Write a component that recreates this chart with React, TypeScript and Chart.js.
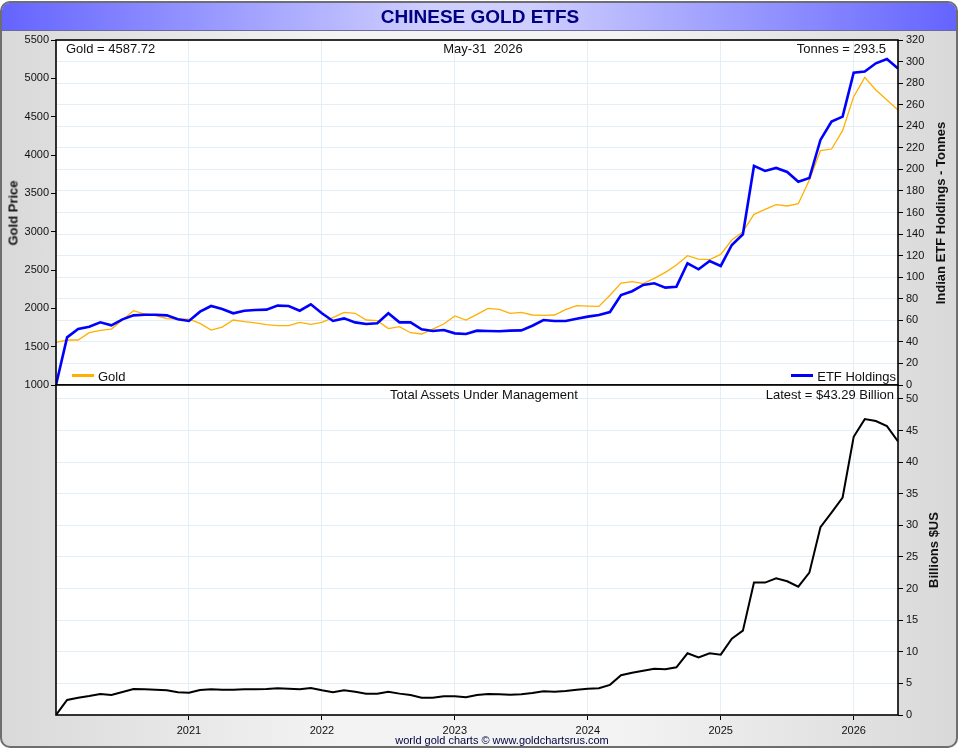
import React, { useEffect, useRef } from "react";
import { Chart, registerables } from "chart.js";

Chart.register(...registerables);

// Monthly values, Jan 2020 .. May 2026 (index 0 = Jan 2020)
const goldPrice = [
  1557, 1587, 1587, 1682, 1713, 1730, 1848, 1969, 1926, 1904, 1865, 1860,
  1860, 1804, 1717, 1756, 1848, 1826, 1809, 1787, 1774, 1774, 1817, 1791,
  1817, 1878, 1948, 1935, 1848, 1839, 1735, 1761, 1682, 1665, 1730, 1796,
  1900, 1848, 1922, 2000, 1987, 1935, 1948, 1913, 1909, 1913, 1982, 2035,
  2030, 2026, 2170, 2330, 2348, 2322, 2391, 2469, 2565, 2687, 2643, 2635,
  2704, 2891, 3000, 3226, 3291, 3352, 3335, 3365, 3674, 4056, 4078, 4317,
  4761, 5013, 4848, 4717, 4587.72,
];

const etfTonnes = [
  0, 44.2, 51.9, 54.1, 58.1, 55.4, 60.9, 64.6, 65.2, 65.2, 64.6, 60.9,
  59.4, 68.0, 73.3, 70.5, 66.5, 68.9, 69.6, 69.9, 73.6, 73.3, 68.9, 74.8,
  66.5, 59.4, 61.8, 58.1, 56.6, 57.2, 66.5, 58.1, 58.1, 51.6, 50.1, 51.0,
  47.9, 47.3, 50.4, 50.1, 49.8, 50.4, 50.7, 55.0, 60.3, 59.4, 59.4, 61.5,
  63.4, 64.9, 67.7, 83.5, 87.0, 92.8, 94.3, 90.3, 91.2, 112.9, 107.3, 115.0,
  110.4, 129.9, 139.8, 203.2, 198.5, 201.3, 197.6, 188.5, 192.0, 227.3, 244.3, 248.9,
  289.7, 290.7, 298.4, 302.4, 293.5,
];

const aumBillions = [
  0, 2.37, 2.74, 3.0, 3.32, 3.16, 3.64, 4.11, 4.06, 4.0, 3.9, 3.59,
  3.53, 3.96, 4.06, 4.0, 4.0, 4.06, 4.06, 4.11, 4.22, 4.17, 4.06, 4.27,
  3.9, 3.59, 3.9, 3.69, 3.38, 3.38, 3.69, 3.38, 3.16, 2.74, 2.74, 2.95,
  2.95, 2.8, 3.16, 3.32, 3.27, 3.22, 3.27, 3.48, 3.75, 3.69, 3.8, 4.0,
  4.17, 4.22, 4.77, 6.3, 6.68, 7.0, 7.33, 7.23, 7.54, 9.76, 9.12, 9.76,
  9.55, 12.08, 13.35, 20.94, 20.94, 21.62, 21.15, 20.3, 22.52, 29.7, 32.0, 34.4,
  44.0, 46.8, 46.5, 45.7, 43.29,
];

const yearTicks = [12, 24, 36, 48, 60, 72];
const yearLabels = ["2021", "2022", "2023", "2024", "2025", "2026"];
const latestDate = "May-31  2026";

const FONT = 'Arial, "Liberation Sans", sans-serif';
const GRID = "#e3eef7";
const GOLD_COLOR = "#ffb000";
const ETF_COLOR = "#0000ff";

Chart.defaults.font.family = FONT;
Chart.defaults.color = "#111";

// white plot background + black frame around the plot area
const plotFrame = {
  id: "plotFrame",
  beforeDraw(chart: any) {
    const { ctx, chartArea: a } = chart;
    ctx.save();
    ctx.fillStyle = "#ffffff";
    ctx.fillRect(a.left, a.top, a.right - a.left, a.bottom - a.top);
    ctx.restore();
  },
  afterDraw(chart: any) {
    const { ctx, chartArea: a } = chart;
    ctx.save();
    ctx.strokeStyle = "#000";
    ctx.lineWidth = 1.6;
    ctx.strokeRect(a.left, a.top, a.right - a.left, a.bottom - a.top);
    ctx.restore();
  },
};

const toPoints = (arr: number[]) => arr.map((v, i) => ({ x: i, y: v }));
const plainNumber = (value: any) => String(value);

const yearAxis = (showLabels: boolean, height: number) => ({
  type: "linear" as const,
  min: 0,
  max: goldPrice.length - 1,
  afterBuildTicks: (scale: any) => {
    scale.ticks = yearTicks.map((value) => ({ value }));
  },
  afterFit: (scale: any) => {
    scale.height = height;
  },
  grid: {
    color: GRID,
    drawTicks: showLabels,
    tickLength: 5,
    tickColor: "#000",
  },
  border: { display: false },
  ticks: {
    display: showLabels,
    font: { size: 11 },
    padding: 4,
    maxRotation: 0,
    callback: (value: any) => {
      const i = yearTicks.indexOf(value);
      return i >= 0 ? yearLabels[i] : "";
    },
  },
});

const Label: React.FC<{
  x: number;
  y: number;
  align?: "left" | "center" | "right";
  size?: number;
  bold?: boolean;
  color?: string;
  rotate?: boolean;
  children: React.ReactNode;
}> = ({ x, y, align = "left", size = 13, bold = false, color = "#111", rotate = false, children }) => {
  let transform = "translate(0, -50%)";
  if (align === "center") transform = "translate(-50%, -50%)";
  if (align === "right") transform = "translate(-100%, -50%)";
  if (rotate) transform = "translate(-50%, -50%) rotate(-90deg)";
  return (
    <div
      style={{
        position: "absolute",
        left: x,
        top: y,
        transform,
        fontFamily: FONT,
        fontSize: size,
        fontWeight: bold ? "bold" : "normal",
        color,
        whiteSpace: "pre",
        lineHeight: 1,
        pointerEvents: "none",
      }}
    >
      {children}
    </div>
  );
};

const App: React.FC = () => {
  const topRef = useRef<HTMLCanvasElement | null>(null);
  const bottomRef = useRef<HTMLCanvasElement | null>(null);

  useEffect(() => {
    if (!topRef.current || !bottomRef.current) return;

    const topChart = new Chart(topRef.current, {
      type: "line",
      data: {
        datasets: [
          {
            label: "ETF Holdings",
            data: toPoints(etfTonnes),
            yAxisID: "y1",
            borderColor: ETF_COLOR,
            borderWidth: 2.6,
            pointRadius: 0,
            tension: 0,
          },
          {
            label: "Gold",
            data: toPoints(goldPrice),
            yAxisID: "y",
            borderColor: GOLD_COLOR,
            borderWidth: 1.3,
            pointRadius: 0,
            tension: 0,
          },
        ],
      },
      options: {
        animation: false,
        responsive: true,
        maintainAspectRatio: false,
        layout: { padding: { top: 40, bottom: 750 - 385 - 8, left: 0, right: 0 } },
        plugins: { legend: { display: false }, tooltip: { enabled: false } },
        scales: {
          x: yearAxis(false, 8),
          y: {
            position: "left",
            min: 1000,
            max: 5500,
            afterFit: (scale: any) => {
              scale.width = 56;
            },
            grid: { drawOnChartArea: false, tickLength: 5, tickColor: "#000" },
            border: { display: false },
            ticks: { stepSize: 500, font: { size: 11 }, padding: 2, callback: plainNumber },
          },
          y1: {
            position: "right",
            min: 0,
            max: 320,
            afterFit: (scale: any) => {
              scale.width = 62;
            },
            grid: { color: GRID, tickLength: 5, tickColor: "#000" },
            border: { display: false },
            ticks: { stepSize: 20, font: { size: 11 }, padding: 3, callback: plainNumber },
          },
        },
      },
      plugins: [plotFrame],
    });

    const bottomChart = new Chart(bottomRef.current, {
      type: "line",
      data: {
        datasets: [
          {
            label: "Total Assets Under Management",
            data: toPoints(aumBillions),
            yAxisID: "y",
            borderColor: "#000",
            borderWidth: 2,
            pointRadius: 0,
            tension: 0,
          },
        ],
      },
      options: {
        animation: false,
        responsive: true,
        maintainAspectRatio: false,
        layout: { padding: { top: 385, bottom: 0, left: 56, right: 0 } },
        plugins: { legend: { display: false }, tooltip: { enabled: false } },
        scales: {
          x: yearAxis(true, 35),
          y: {
            position: "right",
            min: 0,
            max: 52.2,
            afterBuildTicks: (scale: any) => {
              scale.ticks = scale.ticks.filter((t: any) => t.value % 5 === 0);
            },
            afterFit: (scale: any) => {
              scale.width = 62;
            },
            grid: { color: GRID, tickLength: 5, tickColor: "#000" },
            border: { display: false },
            ticks: { stepSize: 5, font: { size: 11 }, padding: 3, callback: plainNumber },
          },
        },
      },
      plugins: [plotFrame],
    });

    return () => {
      topChart.destroy();
      bottomChart.destroy();
    };
  }, []);

  const last = goldPrice.length - 1;

  return (
    <div style={{ position: "fixed", left: 0, top: 0, width: 960, height: 750, overflow: "hidden" }}>
      {/* outer frame */}
      <div
        style={{
          position: "absolute",
          left: 0,
          top: 1,
          width: 954,
          height: 743,
          border: "2px solid #6e6e6e",
          borderRadius: 10,
          overflow: "hidden",
          background: "linear-gradient(to right, #d9d9d9 0%, #f3f3f3 35%, #f3f3f3 65%, #d9d9d9 100%)",
        }}
      >
        <div
          style={{
            position: "absolute",
            left: 0,
            top: 0,
            width: "100%",
            height: 27,
            borderBottom: "1px solid #6a6aa0",
            background: "linear-gradient(to right, #6464ff 0%, #cfcfff 45%, #cfcfff 55%, #6464ff 100%)",
          }}
        />
      </div>

      <div style={{ position: "absolute", left: 0, top: 0, width: 960, height: 750 }}>
        <canvas ref={topRef}></canvas>
      </div>
      <div style={{ position: "absolute", left: 0, top: 0, width: 960, height: 750 }}>
        <canvas ref={bottomRef}></canvas>
      </div>

      <Label x={480} y={16} align="center" size={19} bold color="#000080">
        CHINESE GOLD ETFS
      </Label>

      <Label x={66} y={48}>{`Gold = ${goldPrice[last].toFixed(2)}`}</Label>
      <Label x={483} y={48} align="center">{latestDate}</Label>
      <Label x={886} y={48} align="right">{`Tonnes = ${etfTonnes[last].toFixed(1)}`}</Label>

      <div style={{ position: "absolute", left: 72, top: 374, width: 22, height: 3, background: GOLD_COLOR }} />
      <Label x={98} y={376}>Gold</Label>
      <div style={{ position: "absolute", left: 791, top: 374, width: 22, height: 3, background: ETF_COLOR }} />
      <Label x={896} y={376} align="right">ETF Holdings</Label>

      <Label x={484} y={394} align="center">Total Assets Under Management</Label>
      <Label x={894} y={394} align="right">{`Latest = $${aumBillions[last].toFixed(2)} Billion`}</Label>

      <Label x={13} y={213} rotate bold>Gold Price</Label>
      <Label x={940} y={213} rotate bold>Indian ETF Holdings - Tonnes</Label>
      <Label x={933} y={550} rotate bold>Billions $US</Label>

      <Label x={502} y={740} align="center" size={11} color="#000040">
        world gold charts © www.goldchartsrus.com
      </Label>
    </div>
  );
};

export default App;
